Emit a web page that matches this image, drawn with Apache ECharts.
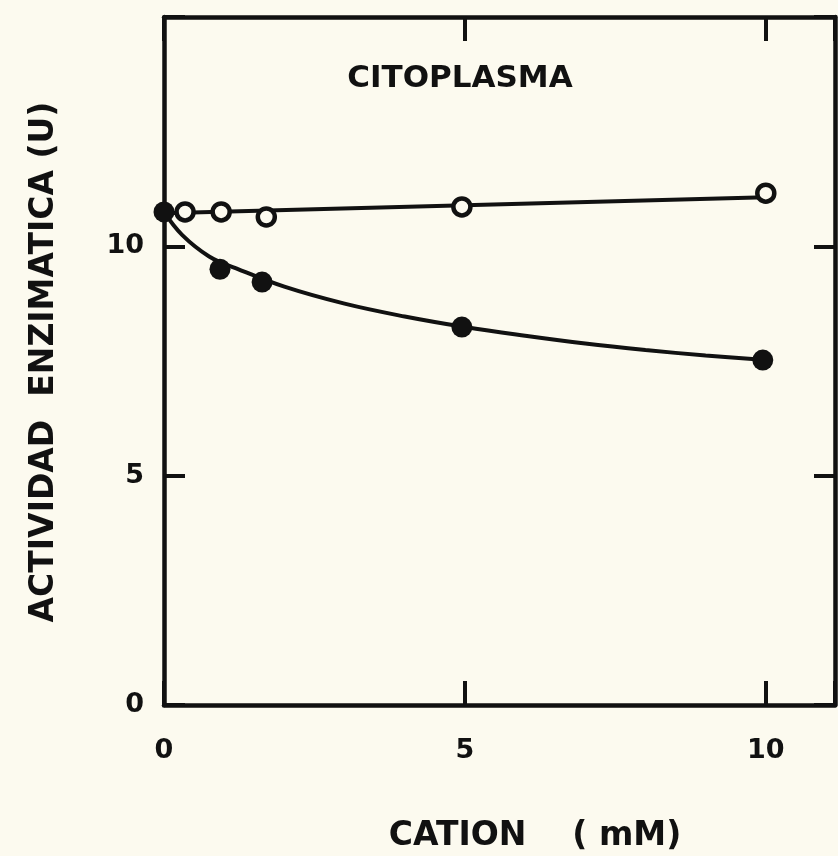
<!DOCTYPE html>
<html>
<head>
<meta charset="utf-8">
<script src="https://cdn.jsdelivr.net/npm/echarts@6/dist/echarts.min.js"></script>
<style>
  html, body { margin: 0; padding: 0; background: #fcfaef; }
  #chart { width: 838px; height: 856px; }
</style>
</head>
<body>
<div id="chart"></div>
<script>
// ---- data ----
const chartTitle = 'CITOPLASMA';
const xAxisTitle = 'CATION    ( mM)';
const yAxisTitle = 'ACTIVIDAD  ENZIMATICA (U)';

const xTicks = [0, 5, 10];
const yTicks = [0, 5, 10];

// open circles (control)
const openX = [0.35, 0.95, 1.7, 4.95, 10];
const openY = [10.75, 10.75, 10.64, 10.86, 11.16];
// straight line drawn through the open circles (end points)
const openLineX = [0, 10];
const openLineY = [10.72, 11.07];

// filled circles (with cation)
const filledX = [0, 0.93, 1.63, 4.95, 9.95];
const filledY = [10.75, 9.5, 9.22, 8.24, 7.52];
// smooth curve drawn through the filled circles
const curveX = [0, 0.3, 0.75, 1.2, 2, 3, 4, 5, 6, 7, 8, 9, 10];
const curveY = [10.75, 10.25, 9.78, 9.52, 9.12, 8.75, 8.47, 8.24, 8.05, 7.88, 7.74, 7.62, 7.52];

const zip = (a, b) => a.map((v, i) => [v, b[i]]);

const INK = '#111';
const BG = '#fcfaef';
const FONT = '"DejaVu Sans", sans-serif';

const chart = echarts.init(document.getElementById('chart'), null, { renderer: 'canvas' });

const xMin = 0, xMax = 11.15, yMin = 0, yMax = 15;
const showTick = (list) => (v) => list.indexOf(Math.round(v * 100) / 100) >= 0 ? String(v) : '';

const axisCommonX = {
  type: 'value', min: xMin, max: xMax, interval: 5,
  splitLine: { show: false },
  axisLine: { show: true, onZero: false, lineStyle: { color: INK, width: 4.5 } },
  axisTick: { show: true, inside: true, length: 24, lineStyle: { color: INK, width: 4 } }
};
const axisCommonY = {
  type: 'value', min: yMin, max: yMax, interval: 5,
  splitLine: { show: false },
  axisLine: { show: true, onZero: false, lineStyle: { color: INK, width: 4.5 } },
  axisTick: { show: true, inside: true, length: 21, lineStyle: { color: INK, width: 4 } }
};

chart.setOption({
  backgroundColor: BG,
  animation: false,
  grid: { left: 164, right: 3, top: 17, bottom: 151, containLabel: false },
  xAxis: [
    Object.assign({}, axisCommonX, {
      position: 'bottom',
      axisLabel: {
        show: true, margin: 32, color: INK, fontFamily: FONT, fontWeight: 'bold', fontSize: 27,
        formatter: showTick(xTicks), showMaxLabel: true
      }
    }),
    Object.assign({}, axisCommonX, {
      position: 'top',
      axisLabel: { show: false }
    })
  ],
  yAxis: [
    Object.assign({}, axisCommonY, {
      position: 'left',
      axisLabel: {
        show: true, margin: 20, color: INK, fontFamily: FONT, fontWeight: 'bold', fontSize: 27,
        formatter: showTick(yTicks)
      }
    }),
    Object.assign({}, axisCommonY, {
      position: 'right',
      axisLabel: { show: false }
    })
  ],
  graphic: [
    {
      type: 'text', x: 460, y: 79,
      style: { text: chartTitle, fill: INK, font: 'bold 31px ' + FONT, align: 'center', verticalAlign: 'middle' }
    },
    {
      type: 'text', x: 535, y: 836,
      style: { text: xAxisTitle, fill: INK, font: 'bold 33px ' + FONT, align: 'center', verticalAlign: 'middle' }
    },
    {
      type: 'text', x: 44, y: 362, rotation: Math.PI / 2,
      style: { text: yAxisTitle, fill: INK, font: 'bold 33px ' + FONT, align: 'center', verticalAlign: 'middle' }
    }
  ],
  series: [
    {
      name: 'openLine', type: 'line', data: zip(openLineX, openLineY),
      showSymbol: false, symbol: 'none', silent: true,
      lineStyle: { color: INK, width: 4 }, z: 2
    },
    {
      name: 'curve', type: 'line', data: zip(curveX, curveY), smooth: 0.4,
      showSymbol: false, symbol: 'none', silent: true,
      lineStyle: { color: INK, width: 4 }, z: 2
    },
    {
      name: 'open', type: 'scatter', data: zip(openX, openY),
      symbol: 'circle', symbolSize: 17,
      itemStyle: { color: BG, borderColor: INK, borderWidth: 4.5, opacity: 1 }, z: 4
    },
    {
      name: 'filled', type: 'scatter', data: zip(filledX, filledY),
      symbol: 'circle', symbolSize: 21,
      itemStyle: { color: INK, opacity: 1 }, z: 5
    }
  ]
});
</script>
</body>
</html>
